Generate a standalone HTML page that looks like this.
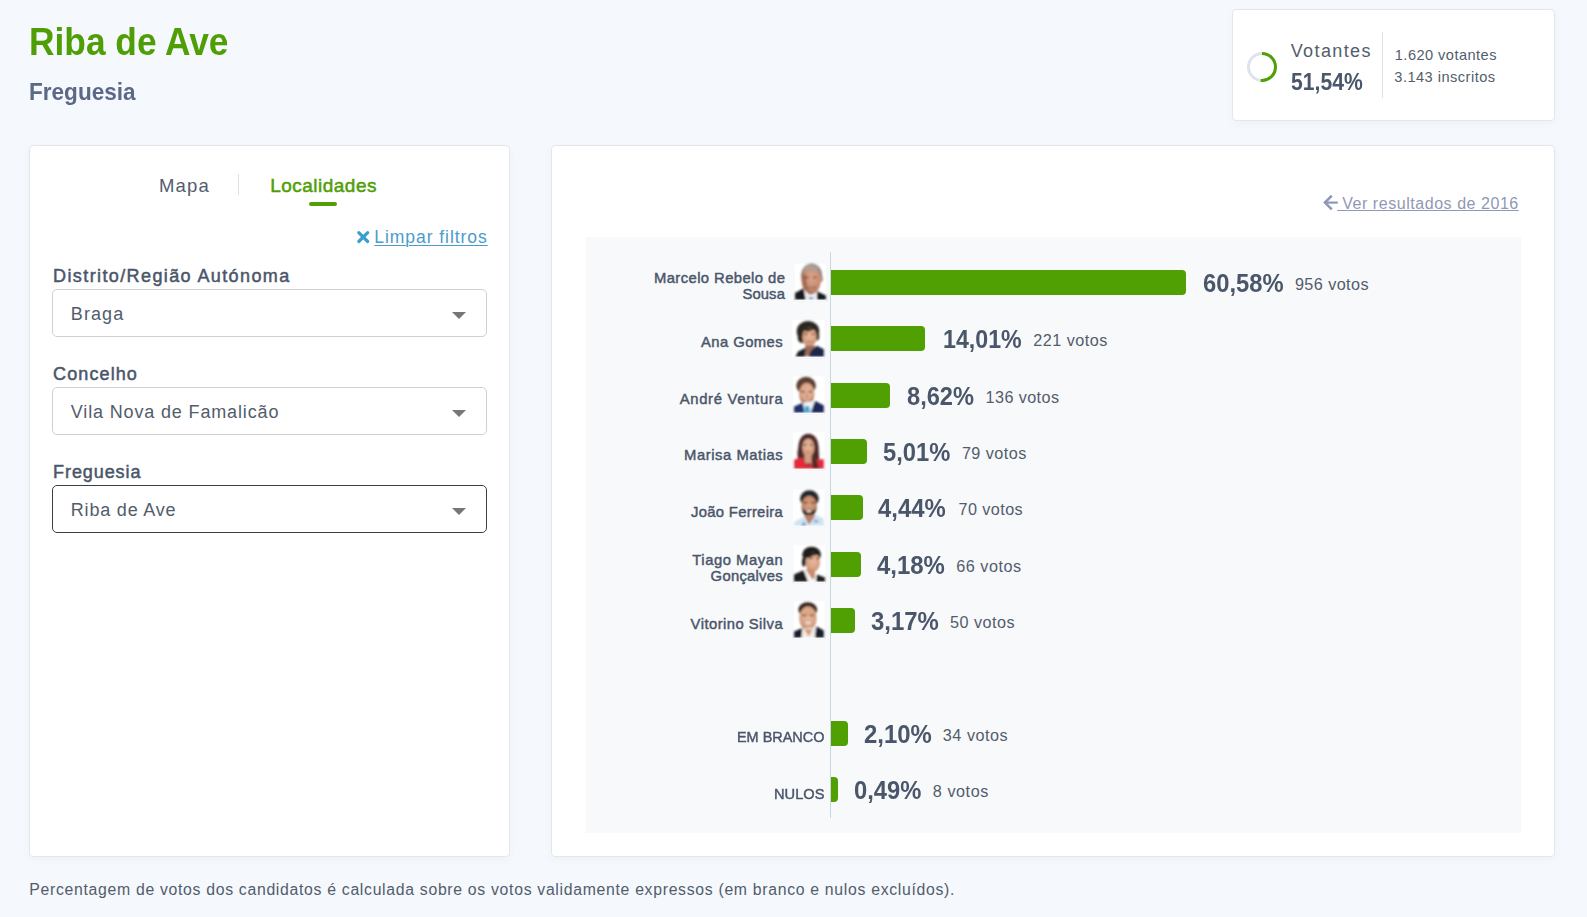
<!DOCTYPE html>
<html lang="pt">
<head>
<meta charset="utf-8">
<title>Riba de Ave - Freguesia</title>
<style>
html,body{margin:0;padding:0;}
body{width:1587px;height:917px;overflow:hidden;background:#f5f8fc;font-family:"Liberation Sans",sans-serif;position:relative;}
.t{position:absolute;white-space:nowrap;font-family:"Liberation Sans",sans-serif;}
.card{position:absolute;background:#fff;border:1px solid #e3e7ec;border-radius:4px;box-sizing:border-box;box-shadow:0 3px 8px rgba(70,90,120,0.04);}
.sel{position:absolute;left:52px;width:435px;height:48px;box-sizing:border-box;border:1px solid #cdd1d5;border-radius:5px;background:#fff;}
.sel.act{border-color:#3c4043;}
.caret{position:absolute;left:451.5px;width:0;height:0;border-left:7px solid transparent;border-right:7px solid transparent;border-top:7.5px solid #777;}
.bar{position:absolute;left:831px;height:25px;background:#50a003;border-radius:0 4px 4px 0;}
.pp{position:absolute;display:block;}
</style>
</head>
<body>
<!-- cards -->
<div class="card" style="left:1232px;top:9px;width:323px;height:112px;"></div>
<div class="card" style="left:29px;top:145px;width:481px;height:712px;"></div>
<div class="card" style="left:551px;top:145px;width:1004px;height:712px;"></div>

<!-- turnout ring -->
<svg style="position:absolute;left:1245px;top:50px" width="34" height="34" viewBox="0 0 34 34">
  <circle cx="17" cy="17" r="13.5" fill="none" stroke="#dfe3ec" stroke-width="3"/>
  <path d="M17 3.5 A13.5 13.5 0 1 1 15.7 30.44" fill="none" stroke="#50a003" stroke-width="3"/>
</svg>
<div style="position:absolute;left:1382px;top:32px;width:1px;height:66px;background:#dfe4ea"></div>

<!-- tabs -->
<div style="position:absolute;left:238px;top:174px;width:1px;height:21px;background:#dde1e6"></div>
<div style="position:absolute;left:309px;top:202px;width:28px;height:4px;border-radius:2px;background:#50a003"></div>

<!-- clear filters icon -->
<svg style="position:absolute;left:355px;top:229px" width="16" height="16" viewBox="0 0 16 16">
  <path d="M3.8 3.7 L12.7 12.5 M12.7 3.7 L3.8 12.5" stroke="#3a9fce" stroke-width="3.2" stroke-linecap="round" fill="none"/>
</svg>

<!-- selects -->
<div class="sel" style="top:289px"></div><div class="caret" style="top:312px"></div>
<div class="sel" style="top:387px"></div><div class="caret" style="top:410px"></div>
<div class="sel act" style="top:485px"></div><div class="caret" style="top:508px"></div>

<!-- chart -->
<div style="position:absolute;left:586px;top:237px;width:935px;height:596px;background:#f8f9fb"></div>
<div style="position:absolute;left:830px;top:252px;width:1px;height:566px;background:#c9d6de"></div>
<div class="bar" style="top:270px;width:355px"></div>
<div class="bar" style="top:326px;width:94px"></div>
<div class="bar" style="top:383px;width:59px"></div>
<div class="bar" style="top:439px;width:36px"></div>
<div class="bar" style="top:495px;width:32px"></div>
<div class="bar" style="top:552px;width:30px"></div>
<div class="bar" style="top:608px;width:24px"></div>
<div class="bar" style="top:721px;width:17px"></div>
<div class="bar" style="top:777px;width:7px"></div>
<svg width="0" height="0" style="position:absolute"><defs><filter id="bl" x="-5%" y="-5%" width="110%" height="110%"><feGaussianBlur stdDeviation="17"/></filter><radialGradient id="sk1" cx="55%" cy="40%" r="65%"><stop offset="0" stop-color="#dca489"/><stop offset="0.6" stop-color="#c98f74"/><stop offset="1" stop-color="#9c654d"/></radialGradient><radialGradient id="sk2" cx="52%" cy="42%" r="65%"><stop offset="0" stop-color="#e9b9a0"/><stop offset="0.65" stop-color="#d9a283"/><stop offset="1" stop-color="#a87458"/></radialGradient><radialGradient id="sk3" cx="50%" cy="40%" r="65%"><stop offset="0" stop-color="#d9a080"/><stop offset="0.6" stop-color="#c48a6c"/><stop offset="1" stop-color="#8f5e48"/></radialGradient></defs></svg>
<!-- Marcelo Rebelo de Sousa -->
<svg class="pp" style="left:790px;top:260px" viewBox="0 0 834 917" width="40" height="44"><rect x="100" y="80" width="650" height="750" fill="#fff"/><g filter="url(#bl)">
<ellipse cx="450" cy="330" rx="222" ry="258" fill="#8f8b89"/>
<ellipse cx="440" cy="420" rx="200" ry="300" fill="url(#sk1)"/>
<ellipse cx="430" cy="175" rx="150" ry="70" fill="#b39c90"/>
<path d="M240 300 Q250 560 400 720 L430 720 Q330 520 330 300Z" fill="#a56a52"/>
<ellipse cx="660" cy="400" rx="28" ry="60" fill="#c98f74"/>
<rect x="300" y="350" width="90" height="28" fill="#6b4436"/><rect x="470" y="350" width="90" height="28" fill="#7b5242"/>
<path d="M360 560 Q450 610 540 550" stroke="#8e5546" stroke-width="22" fill="none"/>
<path d="M290 610 L330 830 L555 830 L555 650 L440 770Z" fill="#eef1f5"/>
<path d="M385 770 L495 770 L480 830 L400 830Z" fill="#79a6cb"/>
<path d="M105 830 L105 690 L285 590 L330 830Z" fill="#14161c"/>
<path d="M560 830 L560 650 L748 740 L748 830Z" fill="#14161c"/>
</g><rect x="100" y="830" width="650" height="40" fill="#f8f9fb"/></svg>
<!-- Ana Gomes -->
<svg class="pp" style="left:790px;top:317px" viewBox="0 0 834 917" width="40" height="44"><rect x="50" y="65" width="670" height="765" fill="#fff"/><g filter="url(#bl)">
<ellipse cx="375" cy="300" rx="235" ry="215" fill="#2c2622"/>
<ellipse cx="250" cy="430" rx="90" ry="110" fill="#2c2622"/>
<ellipse cx="560" cy="400" rx="50" ry="90" fill="#3a302a"/>
<ellipse cx="405" cy="420" rx="150" ry="205" fill="url(#sk2)"/>
<path d="M250 250 Q400 160 560 280 Q480 260 400 300 Q300 320 250 250Z" fill="#3a2e28"/>
<rect x="290" y="345" width="80" height="24" fill="#6b4436"/><rect x="440" y="345" width="80" height="24" fill="#7b5242"/>
<path d="M350 510 Q420 530 490 505" stroke="#a35f55" stroke-width="20" fill="none"/>
<path d="M320 600 L520 600 L560 700 L330 830 L290 830Z" fill="#9a6a58"/>
<path d="M115 830 L170 720 L330 640 L300 830Z" fill="#151a2a"/>
<path d="M380 830 L440 700 L560 600 L705 670 L705 830Z" fill="#1d2847"/>
</g><rect x="50" y="830" width="670" height="40" fill="#f8f9fb"/></svg>
<!-- André Ventura -->
<svg class="pp" style="left:790px;top:373px" viewBox="0 0 834 917" width="40" height="44"><rect x="60" y="70" width="660" height="760" fill="#fff"/><g filter="url(#bl)">
<ellipse cx="335" cy="260" rx="205" ry="180" fill="#5b4030"/>
<ellipse cx="350" cy="430" rx="160" ry="225" fill="url(#sk2)"/>
<path d="M200 470 Q220 660 350 670 Q470 660 500 470 Q420 600 350 600 Q270 600 200 470Z" fill="#a77a62"/>
<rect x="225" y="375" width="85" height="26" fill="#4b3226"/><rect x="380" y="375" width="85" height="26" fill="#5b3e30"/>
<path d="M330 330 L350 520 L380 520Z" fill="#b98368"/>
<path d="M265 620 L520 580 L460 830 L290 830Z" fill="#f1f3f7"/>
<path d="M310 690 L400 690 L425 830 L295 830Z" fill="#3fa7d6"/>
<path d="M85 830 L85 700 L270 620 L300 830Z" fill="#22306b"/>
<path d="M430 830 L520 580 L705 680 L705 830Z" fill="#1b2558"/>
</g><rect x="60" y="830" width="660" height="40" fill="#f8f9fb"/></svg>
<!-- Marisa Matias -->
<svg class="pp" style="left:790px;top:429px" viewBox="0 0 834 917" width="40" height="44"><rect x="60" y="70" width="660" height="760" fill="#fff"/><g filter="url(#bl)">
<path d="M380 100 Q600 110 600 450 L620 820 L150 820 L170 450 Q170 110 380 100Z" fill="#4d2c29"/>
<ellipse cx="380" cy="390" rx="130" ry="190" fill="url(#sk2)"/>
<rect x="300" y="540" width="150" height="180" fill="#d29b84"/>
<rect x="280" y="320" width="70" height="22" fill="#5b3a30"/><rect x="410" y="320" width="70" height="22" fill="#5b3a30"/>
<path d="M330 470 Q380 490 430 468" stroke="#b9605c" stroke-width="18" fill="none"/>
<path d="M85 830 L85 640 L250 590 L380 780 L500 640 L705 630 L705 830Z" fill="#e12a3a"/>
<path d="M470 560 Q560 600 600 820 L470 820Z" fill="#4d2c29"/>
<path d="M160 450 Q150 560 170 600 L260 590 L250 300Z" fill="#4d2c29"/>
</g><rect x="60" y="830" width="660" height="40" fill="#f8f9fb"/></svg>
<!-- João Ferreira -->
<svg class="pp" style="left:790px;top:486px" viewBox="0 0 834 917" width="40" height="44"><rect x="60" y="70" width="660" height="760" fill="#fdfeff"/><g filter="url(#bl)">
<ellipse cx="405" cy="260" rx="195" ry="170" fill="#23252b"/>
<ellipse cx="400" cy="420" rx="160" ry="215" fill="url(#sk3)"/>
<path d="M245 440 Q260 640 400 650 Q530 640 555 440 Q500 560 400 480 Q300 560 245 440Z" fill="#3a2c28"/>
<ellipse cx="395" cy="525" rx="55" ry="24" fill="#efe6e2"/>
<rect x="270" y="335" width="100" height="24" fill="#4b3226"/><rect x="430" y="335" width="100" height="24" fill="#4b3226"/>
<path d="M290 610 L520 600 L480 790 L380 800Z" fill="#b97e68"/>
<path d="M85 830 L90 750 L280 640 L400 800 L540 600 L700 680 L705 830Z" fill="#cfe3f3"/>
<path d="M500 700 L610 740 L520 760Z" fill="#5b86b8"/>
<path d="M230 830 L290 740 L340 830Z" fill="#6a97c6"/>
</g><rect x="60" y="830" width="660" height="40" fill="#f8f9fb"/></svg>
<!-- Tiago Mayan Gonçalves -->
<svg class="pp" style="left:790px;top:542px" viewBox="0 0 834 917" width="40" height="44"><rect x="80" y="70" width="650" height="760" fill="#fff"/><g filter="url(#bl)">
<ellipse cx="450" cy="260" rx="195" ry="160" fill="#1d1a1a"/>
<ellipse cx="290" cy="420" rx="40" ry="90" fill="#1d1a1a"/>
<ellipse cx="475" cy="420" rx="150" ry="200" fill="url(#sk2)"/>
<path d="M300 300 Q450 160 640 280 Q520 250 420 320 Q340 360 300 300Z" fill="#1d1a1a"/>
<rect x="400" y="330" width="80" height="24" fill="#4b3226"/><rect x="545" y="335" width="65" height="22" fill="#4b3226"/>
<path d="M330 560 L520 600 L520 760 L400 800Z" fill="#c98a6c"/>
<path d="M280 600 L380 830 L545 830 L560 690 L480 800 L330 580Z" fill="#f6f6f6"/>
<path d="M85 830 L85 680 L285 590 L380 830Z" fill="#1f1a1a"/>
<path d="M540 830 L560 680 L728 740 L728 830Z" fill="#1f1a1a"/>
</g><rect x="80" y="830" width="650" height="40" fill="#f8f9fb"/></svg>
<!-- Vitorino Silva -->
<svg class="pp" style="left:790px;top:598px" viewBox="0 0 834 917" width="40" height="44"><rect x="80" y="70" width="640" height="760" fill="#fff"/><g filter="url(#bl)">
<ellipse cx="370" cy="245" rx="195" ry="155" fill="#2e221b"/>
<ellipse cx="375" cy="420" rx="180" ry="250" fill="url(#sk2)"/>
<ellipse cx="375" cy="300" rx="150" ry="70" fill="#dca886"/>
<rect x="250" y="350" width="95" height="26" fill="#5b3a2c"/><rect x="410" y="350" width="95" height="26" fill="#5b3a2c"/>
<ellipse cx="380" cy="520" rx="60" ry="24" fill="#efe2dc"/>
<path d="M250 640 L545 610 L530 830 L230 830Z" fill="#f0ebe4"/>
<path d="M300 650 L470 650 L390 800Z" fill="#d39a7c"/>
<path d="M85 830 L85 700 L258 625 L240 830Z" fill="#151b2c"/>
<path d="M520 830 L545 590 L705 680 L705 830Z" fill="#151b2c"/>
</g><rect x="80" y="830" width="640" height="40" fill="#f8f9fb"/></svg>


<!-- back arrow -->
<svg style="position:absolute;left:1322px;top:194px" width="18" height="18" viewBox="0 0 18 18">
  <path d="M15.8 8.6 H4" stroke="#8e97b5" stroke-width="2.2" fill="none"/><path d="M8.9 2.6 L2.9 8.6 L8.9 14.6" stroke="#8e97b5" stroke-width="2.5" stroke-linecap="square" stroke-linejoin="miter" fill="none"/>
</svg>

<span class="t" style="left:29.2px;top:18px;font-size:38.5px;line-height:47px;font-weight:700;color:#4f9e05;transform:scaleX(0.9171);transform-origin:0 0;">Riba de Ave</span>
<span class="t" style="left:29.2px;top:76px;font-size:24.3px;line-height:31px;font-weight:700;color:#5b6986;transform:scaleX(0.9286);transform-origin:0 0;">Freguesia</span>
<span class="t" style="left:1290.7px;top:39px;font-size:18px;line-height:24px;font-weight:400;color:#525d6c;letter-spacing:1.391px;">Votantes</span>
<span class="t" style="left:1291.2px;top:67px;font-size:23px;line-height:30px;font-weight:700;color:#4a566a;transform:scaleX(0.9190);transform-origin:0 0;">51,54%</span>
<span class="t" style="left:1394.8px;top:45px;font-size:14.6px;line-height:20px;font-weight:400;color:#525d6c;letter-spacing:0.458px;">1.620 votantes</span>
<span class="t" style="left:1394.3px;top:67px;font-size:14.6px;line-height:20px;font-weight:400;color:#525d6c;letter-spacing:0.478px;">3.143 inscritos</span>
<span class="t" style="left:159.1px;top:173px;font-size:18.5px;line-height:25px;font-weight:400;color:#525d6c;letter-spacing:1.106px;">Mapa</span>
<span class="t" style="left:270.2px;top:173px;font-size:19px;line-height:25px;font-weight:400;color:#4f9e05;letter-spacing:0.488px;-webkit-text-stroke:0.5px #4f9e05;">Localidades</span>
<span class="t" style="left:374.3px;top:225px;font-size:17.5px;line-height:24px;font-weight:400;color:#4a9cc9;letter-spacing:0.948px;text-decoration:underline;text-underline-offset:2px;text-decoration-thickness:1px;">Limpar filtros</span>
<span class="t" style="left:53.1px;top:264px;font-size:18px;line-height:24px;font-weight:400;color:#4a566a;letter-spacing:1.391px;-webkit-text-stroke:0.5px #4a566a;">Distrito/Região Autónoma</span>
<span class="t" style="left:53.1px;top:362px;font-size:18px;line-height:24px;font-weight:400;color:#4a566a;letter-spacing:1.105px;-webkit-text-stroke:0.5px #4a566a;">Concelho</span>
<span class="t" style="left:53.1px;top:460px;font-size:18px;line-height:24px;font-weight:400;color:#4a566a;letter-spacing:0.907px;-webkit-text-stroke:0.5px #4a566a;">Freguesia</span>
<span class="t" style="left:70.8px;top:302px;font-size:18px;line-height:24px;font-weight:400;color:#525d6c;letter-spacing:1.088px;">Braga</span>
<span class="t" style="left:70.8px;top:400px;font-size:18px;line-height:24px;font-weight:400;color:#525d6c;letter-spacing:0.849px;">Vila Nova de Famalicão</span>
<span class="t" style="left:70.8px;top:498px;font-size:18px;line-height:24px;font-weight:400;color:#525d6c;letter-spacing:0.8px;">Riba de Ave</span>
<span class="t" style="left:1337.2px;top:193px;font-size:16px;line-height:21px;font-weight:400;color:#9098b5;letter-spacing:0.549px;text-decoration:underline;text-underline-offset:1px;text-decoration-thickness:1px;"> Ver resultados de 2016</span>
<span class="t" style="left:29.3px;top:879px;font-size:15.8px;line-height:21px;font-weight:400;color:#525d6c;letter-spacing:0.690px;">Percentagem de votos dos candidatos é calculada sobre os votos validamente expressos (em branco e nulos excluídos).</span>
<span class="t" style="left:653.9px;top:268px;font-size:14.8px;line-height:20px;font-weight:400;color:#4a566a;letter-spacing:0.425px;-webkit-text-stroke:0.45px #4a566a;">Marcelo Rebelo de</span>
<span class="t" style="left:742.4px;top:284px;font-size:14.8px;line-height:20px;font-weight:400;color:#4a566a;letter-spacing:0.133px;-webkit-text-stroke:0.45px #4a566a;">Sousa</span>
<span class="t" style="left:1202.8px;top:267px;font-size:25.4px;line-height:32px;font-weight:700;color:#4a566a;transform:scaleX(0.9370);transform-origin:0 0;">60,58%</span>
<span class="t" style="left:1294.9px;top:273px;font-size:16.2px;line-height:22px;font-weight:400;color:#525d6c;letter-spacing:0.437px;">956 votos</span>
<span class="t" style="left:701.0px;top:332px;font-size:14.8px;line-height:20px;font-weight:400;color:#4a566a;letter-spacing:0.445px;-webkit-text-stroke:0.45px #4a566a;">Ana Gomes</span>
<span class="t" style="left:943.0px;top:323px;font-size:25.4px;line-height:32px;font-weight:700;color:#4a566a;transform:scaleX(0.9138);transform-origin:0 0;">14,01%</span>
<span class="t" style="left:1033.2px;top:329px;font-size:16.2px;line-height:22px;font-weight:400;color:#525d6c;letter-spacing:0.500px;">221 votos</span>
<span class="t" style="left:679.7px;top:389px;font-size:14.8px;line-height:20px;font-weight:400;color:#4a566a;letter-spacing:0.699px;-webkit-text-stroke:0.45px #4a566a;">André Ventura</span>
<span class="t" style="left:906.5px;top:380px;font-size:25.4px;line-height:32px;font-weight:700;color:#4a566a;transform:scaleX(0.9306);transform-origin:0 0;">8,62%</span>
<span class="t" style="left:985.6px;top:386px;font-size:16.2px;line-height:22px;font-weight:400;color:#525d6c;letter-spacing:0.400px;">136 votos</span>
<span class="t" style="left:684.1px;top:445px;font-size:14.8px;line-height:20px;font-weight:400;color:#4a566a;letter-spacing:0.542px;-webkit-text-stroke:0.45px #4a566a;">Marisa Matias</span>
<span class="t" style="left:883.1px;top:436px;font-size:25.4px;line-height:32px;font-weight:700;color:#4a566a;transform:scaleX(0.9347);transform-origin:0 0;">5,01%</span>
<span class="t" style="left:961.9px;top:442px;font-size:16.2px;line-height:22px;font-weight:400;color:#525d6c;letter-spacing:0.471px;">79 votos</span>
<span class="t" style="left:691.1px;top:502px;font-size:14.8px;line-height:20px;font-weight:400;color:#4a566a;letter-spacing:0.300px;-webkit-text-stroke:0.45px #4a566a;">João Ferreira</span>
<span class="t" style="left:878.4px;top:492px;font-size:25.4px;line-height:32px;font-weight:700;color:#4a566a;transform:scaleX(0.9403);transform-origin:0 0;">4,44%</span>
<span class="t" style="left:958.5px;top:498px;font-size:16.2px;line-height:22px;font-weight:400;color:#525d6c;letter-spacing:0.428px;">70 votos</span>
<span class="t" style="left:692.3px;top:550px;font-size:14.8px;line-height:20px;font-weight:400;color:#4a566a;letter-spacing:0.540px;-webkit-text-stroke:0.45px #4a566a;">Tiago Mayan</span>
<span class="t" style="left:710.6px;top:566px;font-size:14.8px;line-height:20px;font-weight:400;color:#4a566a;letter-spacing:0.272px;-webkit-text-stroke:0.45px #4a566a;">Gonçalves</span>
<span class="t" style="left:876.9px;top:549px;font-size:25.4px;line-height:32px;font-weight:700;color:#4a566a;transform:scaleX(0.9431);transform-origin:0 0;">4,18%</span>
<span class="t" style="left:956.2px;top:555px;font-size:16.2px;line-height:22px;font-weight:400;color:#525d6c;letter-spacing:0.542px;">66 votos</span>
<span class="t" style="left:690.6px;top:614px;font-size:14.8px;line-height:20px;font-weight:400;color:#4a566a;letter-spacing:0.462px;-webkit-text-stroke:0.45px #4a566a;">Vitorino Silva</span>
<span class="t" style="left:870.6px;top:605px;font-size:25.4px;line-height:32px;font-weight:700;color:#4a566a;transform:scaleX(0.9431);transform-origin:0 0;">3,17%</span>
<span class="t" style="left:950.0px;top:611px;font-size:16.2px;line-height:22px;font-weight:400;color:#525d6c;letter-spacing:0.500px;">50 votos</span>
<span class="t" style="left:737.0px;top:727px;font-size:14.8px;line-height:20px;font-weight:400;color:#4a566a;transform:scaleX(0.9752);transform-origin:0 0;-webkit-text-stroke:0.45px #4a566a;">EM BRANCO</span>
<span class="t" style="left:863.8px;top:718px;font-size:25.4px;line-height:32px;font-weight:700;color:#4a566a;transform:scaleX(0.9417);transform-origin:0 0;">2,10%</span>
<span class="t" style="left:942.8px;top:724px;font-size:16.2px;line-height:22px;font-weight:400;color:#525d6c;letter-spacing:0.528px;">34 votos</span>
<span class="t" style="left:774.0px;top:784px;font-size:14.8px;line-height:20px;font-weight:400;color:#4a566a;transform:scaleX(0.9885);transform-origin:0 0;-webkit-text-stroke:0.45px #4a566a;">NULOS</span>
<span class="t" style="left:853.8px;top:774px;font-size:25.4px;line-height:32px;font-weight:700;color:#4a566a;transform:scaleX(0.9361);transform-origin:0 0;">0,49%</span>
<span class="t" style="left:932.8px;top:780px;font-size:16.2px;line-height:22px;font-weight:400;color:#525d6c;letter-spacing:0.549px;">8 votos</span>
</body>
</html>
